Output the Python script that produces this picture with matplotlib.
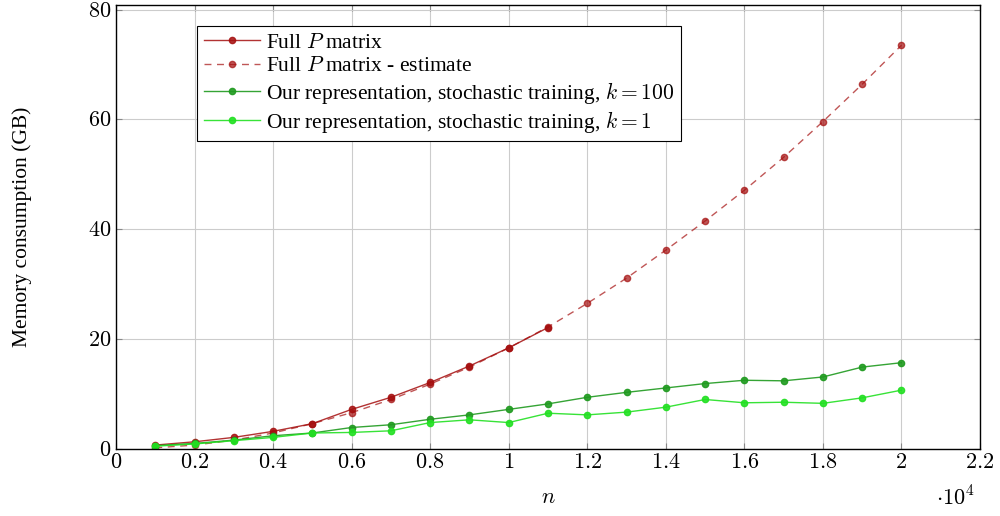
import matplotlib.pyplot as plt

# sample sizes (in units of 10^4)
n_full = [0.1, 0.2, 0.3, 0.4, 0.5, 0.6, 0.7, 0.8, 0.9, 1.0, 1.1]
mem_full = [0.7, 1.3, 2.1, 3.2, 4.6, 7.2, 9.4, 12.1, 15.1, 18.4, 22.1]

n_all = [0.1, 0.2, 0.3, 0.4, 0.5, 0.6, 0.7, 0.8, 0.9, 1.0, 1.1,
         1.2, 1.3, 1.4, 1.5, 1.6, 1.7, 1.8, 1.9, 2.0]
mem_estimate = [0.2, 0.7, 1.6, 2.9, 4.6, 6.6, 9.0, 11.8, 14.9, 18.4, 22.2,
                26.5, 31.1, 36.2, 41.5, 47.1, 53.1, 59.6, 66.4, 73.5]
mem_k100 = [0.6, 1.0, 1.6, 2.4, 2.9, 3.9, 4.4, 5.4, 6.2, 7.2, 8.2,
            9.4, 10.3, 11.1, 11.9, 12.5, 12.4, 13.1, 14.9, 15.7]
mem_k1 = [0.5, 0.9, 1.5, 2.1, 2.9, 3.0, 3.3, 4.8, 5.3, 4.8, 6.5,
          6.2, 6.7, 7.6, 9.0, 8.4, 8.5, 8.3, 9.3, 10.7]

x_ticks = [0, 0.2, 0.4, 0.6, 0.8, 1, 1.2, 1.4, 1.6, 1.8, 2, 2.2]
x_tick_labels = ['$0$', '$0.2$', '$0.4$', '$0.6$', '$0.8$', '$1$', '$1.2$',
                 '$1.4$', '$1.6$', '$1.8$', '$2$', '$2.2$']
y_ticks = [0, 20, 40, 60, 80]

plt.rcParams['font.family'] = ['Liberation Serif', 'DejaVu Serif']
plt.rcParams['mathtext.fontset'] = 'cm'

dark_red = '#a50f0f'
dark_green = '#1f9a1f'
light_green = '#22e022'

fig = plt.figure(figsize=(10, 5.16), dpi=100)
ax = fig.add_axes([0.116, 0.130, 0.864, 0.860])

ax.plot(n_full, mem_full, color=dark_red, lw=1.0, marker='o', ms=4.5,
        mfc=dark_red, mec=dark_red, alpha=0.85,
        label='Full $P$ matrix')
ax.plot(n_all, mem_estimate, color=dark_red, lw=1.0, ls=(0, (5, 4)), marker='o', ms=4.5,
        mfc=dark_red, mec=dark_red, alpha=0.7,
        label='Full $P$ matrix - estimate')
ax.plot(n_all, mem_k100, color=dark_green, lw=1.0, marker='o', ms=4.5,
        mfc=dark_green, mec=dark_green, alpha=0.9,
        label='Our representation, stochastic training, $k = 100$')
ax.plot(n_all, mem_k1, color=light_green, lw=1.0, marker='o', ms=4.5,
        mfc=light_green, mec=light_green, alpha=0.9,
        label='Our representation, stochastic training, $k = 1$')

ax.set_xlim(0, 2.2)
ax.set_ylim(0, 80.8)
ax.set_xticks(x_ticks)
ax.set_xticklabels(x_tick_labels, fontsize=16)
ax.set_yticks(y_ticks)
ax.set_yticklabels(['$%d$' % v for v in y_ticks], fontsize=16)
ax.tick_params(direction='in', top=True, right=True, length=4, color='#888888')
ax.grid(True, color='#cccccc', lw=0.8)
ax.set_axisbelow(True)
for spine in ax.spines.values():
    spine.set_linewidth(1.0)

ax.set_xlabel('$n$', fontsize=16, labelpad=12)
ax.set_ylabel('Memory consumption (GB)', fontsize=15.5, labelpad=40)
ax.text(0.949, -0.112, r'$\cdot10^4$', transform=ax.transAxes, fontsize=16,
        ha='left', va='center')

leg = ax.legend(loc='upper left', bbox_to_anchor=(0.094, 0.952), fontsize=15.5,
                frameon=True, fancybox=False, edgecolor='black', framealpha=1,
                borderpad=0.3, labelspacing=0.15, handlelength=2.6, handletextpad=0.3,
                borderaxespad=0)
leg.get_frame().set_linewidth(0.8)

fig.savefig('out.png', dpi=100)
